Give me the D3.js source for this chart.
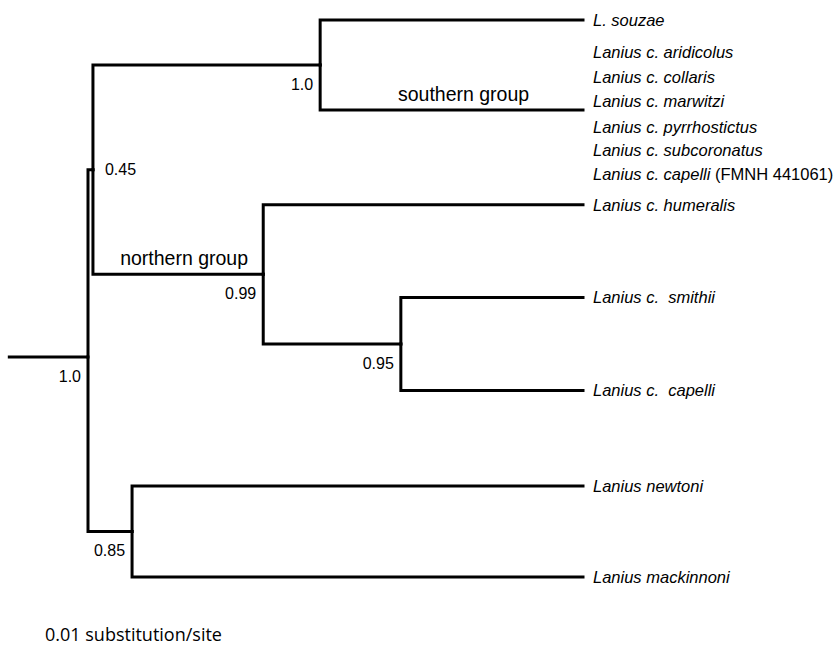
<!DOCTYPE html>
<html>
<head>
<meta charset="utf-8">
<script src="https://cdn.jsdelivr.net/npm/d3@7"></script>
<style>
  html, body { margin: 0; padding: 0; background: #fff; }
  text { white-space: pre; }
</style>
</head>
<body>
<svg id="chart" width="840" height="650"></svg>
<script>
// ---------- DATA ----------
// tree nodes (flat table: id, parent, cumulative distance from root, row)
const nodeIds     = ["root", "n045", "nSouth", "souzae", "southern", "nNorth", "humeralis", "nSmith", "smithii", "capelli", "nBottom", "newtoni", "mackinnoni"];
const nodeParents = ["",     "root", "n045",   "nSouth", "nSouth",   "n045",   "nNorth",    "nNorth", "nSmith",  "nSmith",  "root",    "nBottom", "nBottom"];
const nodeDepth   = [0,      0.010,  0.469,    1.0,      1.0,        0.354,    1.0,         0.632,    1.0,       1.0,       0.089,     1.0,       1.0];
// row position of leaves (and of internal nodes when not centred on children)
const nodeRow     = [3.63,   null,   null,     0,        0.97,       null,     1.99,        null,     2.99,      3.99,      null,      5.02,      6.0];
const rootStem = 0.162;                // length of the root stem (same units as depth)

// posterior support values at internal nodes
const supportNodes  = ["root", "n045", "nSouth", "nNorth", "nSmith", "nBottom"];
const supportValues = ["1.0",  "0.45", "1.0",    "0.99",   "0.95",   "0.85"];

// tip labels: [italic part, plain part]
const tipNames = {
  souzae:     ["L. souzae", ""],
  humeralis:  ["Lanius c. humeralis", ""],
  smithii:    ["Lanius c.  smithii", ""],
  capelli:    ["Lanius c.  capelli", ""],
  newtoni:    ["Lanius newtoni", ""],
  mackinnoni: ["Lanius mackinnoni", ""]
};
// taxa listed in the collapsed southern group
const southernTaxa = [
  ["Lanius c. aridicolus", ""],
  ["Lanius c. collaris", ""],
  ["Lanius c. marwitzi", ""],
  ["Lanius c. pyrrhostictus", ""],
  ["Lanius c. subcoronatus", ""],
  ["Lanius c. capelli", " (FMNH 441061)"]
];
const southernRows = [0.345, 0.614, 0.873, 1.153, 1.40, 1.659];

const groupLabels = ["southern group", "northern group"];
const groupNodes  = ["southern", "nNorth"];
const scaleLabel  = "0.01 substitution/site";

// ---------- LAYOUT ----------
const svg = d3.select("#chart");
const x = d3.scaleLinear().domain([0, 1]).range([88, 583]);
const y = d3.scaleLinear().domain([0, 6]).range([20, 577]);

const table = nodeIds.map((id, i) => ({ id, parent: nodeParents[i], depth: nodeDepth[i], row: nodeRow[i] }));
const root = d3.stratify().id(d => d.id).parentId(d => d.parent || null)(table);

// rows of internal nodes: mean of children unless given
root.eachAfter(n => {
  if (n.data.row == null) n.data.row = d3.mean(n.children, c => c.data.row);
});
root.each(n => { n.px = x(n.data.depth); n.py = y(n.data.row); });
const byId = new Map(root.descendants().map(n => [n.id, n]));

const g = svg.append("g");

// root stem
g.append("path")
  .attr("d", `M${x(-rootStem)},${root.py}H${root.px}`)
  .attr("fill", "none").attr("stroke", "#000").attr("stroke-width", 3);

// elbow branches
g.selectAll("path.branch")
  .data(root.descendants().filter(n => n.parent))
  .join("path")
  .attr("class", "branch")
  .attr("d", n => `M${n.parent.px},${n.parent.py}V${n.py}H${n.px}`)
  .attr("fill", "none")
  .attr("stroke", "#000")
  .attr("stroke-width", 3)
  .attr("stroke-linecap", "square")
  .attr("stroke-linejoin", "miter");

const font = "'Liberation Sans', Arial, sans-serif";

function addRich(sel, parts) {
  sel.append("tspan").attr("font-style", "italic").text(parts[0]);
  if (parts[1]) sel.append("tspan").attr("font-style", "normal").text(parts[1]);
}

// tip labels
Object.keys(tipNames).forEach(id => {
  const n = byId.get(id);
  const t = g.append("text")
    .attr("x", n.px + 10).attr("y", n.py)
    .attr("dy", "0.35em")
    .attr("font-family", font).attr("font-size", 16.5);
  addRich(t, tipNames[id]);
});
southernTaxa.forEach((parts, i) => {
  const t = g.append("text")
    .attr("x", x(1) + 10).attr("y", y(southernRows[i]))
    .attr("dy", "0.35em")
    .attr("font-family", font).attr("font-size", 16.5);
  addRich(t, parts);
});

// support values
supportNodes.forEach((id, i) => {
  const n = byId.get(id);
  const right = id === "n045";
  g.append("text")
    .attr("x", right ? n.px + 12 : n.px - 7)
    .attr("y", right ? n.py : n.py + 19)
    .attr("dy", "0.35em")
    .attr("text-anchor", right ? "start" : "end")
    .attr("font-family", font).attr("font-size", 16)
    .text(supportValues[i]);
});

// group labels
groupNodes.forEach((id, i) => {
  const n = byId.get(id);
  const gx = (n.parent.px + n.px) / 2 + (id === "southern" ? 12 : 6);
  g.append("text")
    .attr("x", gx).attr("y", n.py - 16)
    .attr("dy", "0.35em")
    .attr("text-anchor", "middle")
    .attr("font-family", font).attr("font-size", 19.5)
    .text(groupLabels[i]);
});

// scale label
svg.append("text")
  .attr("x", 45).attr("y", 635).attr("dy", "0.35em")
  .attr("font-family", "'Open Sans', 'Noto Sans', sans-serif")
  .attr("font-size", 18)
  .text(scaleLabel);
</script>
</body>
</html>
